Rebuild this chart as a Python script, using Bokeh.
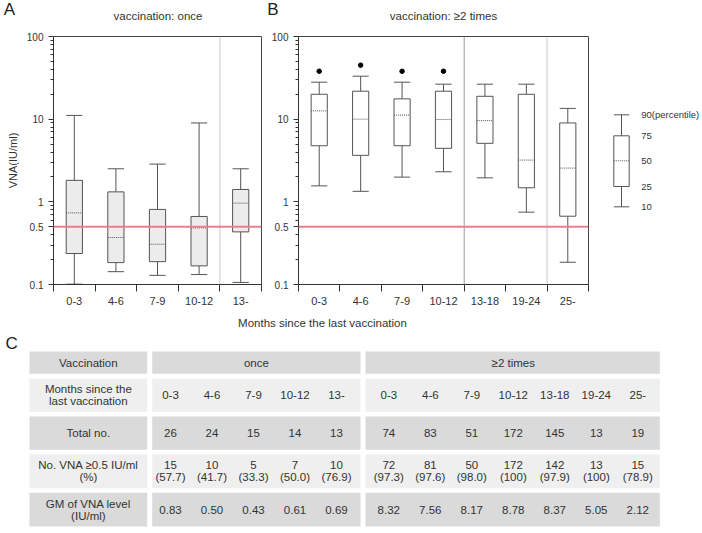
from bokeh.plotting import figure
from bokeh.models import Range1d, FixedTicker, Span
from bokeh.layouts import row, column
from bokeh.embed import file_html
from bokeh.resources import INLINE
from bokeh.core.properties import value

FONT = "Liberation Sans"
TXT = "#333333"
EDGE = "#555555"

# ---------------- data: panel A (vaccinated once) ----------------
cats_once = ["0-3", "4-6", "7-9", "10-12", "13-"]
once_p10 = [0.101, 0.143, 0.129, 0.132, 0.106]
once_p25 = [0.237, 0.184, 0.189, 0.168, 0.433]
once_p50 = [0.735, 0.370, 0.307, 0.484, 0.964]
once_p75 = [1.82, 1.32, 0.81, 0.665, 1.41]
once_p90 = [11.1, 2.51, 2.86, 9.0, 2.51]

# ---------------- data: panel B (vaccinated >= 2 times) ----------------
cats_twice = ["0-3", "4-6", "7-9", "10-12", "13-18", "19-24", "25-"]
twice_p10 = [1.56, 1.34, 1.99, 2.31, 1.95, 0.75, 0.186]
twice_p25 = [4.77, 3.65, 4.77, 4.44, 5.1, 1.48, 0.67]
twice_p50 = [12.6, 10.0, 11.2, 9.9, 9.6, 3.2, 2.56]
twice_p75 = [20.0, 21.8, 17.6, 21.8, 18.9, 20.0, 9.0]
twice_p90 = [28.0, 33.1, 28.0, 26.5, 26.5, 26.5, 13.5]
twice_outlier_cats = ["0-3", "4-6", "7-9", "10-12"]
twice_outliers = [38.0, 45.0, 38.0, 38.0]

threshold = 0.5
y_tick_vals = [0.1, 0.5, 1, 10, 100]
y_tick_labels = ["0.1", "0.5", "1", "10", "100"]

panel_letters = ["A", "B"]
panel_titles = ["vaccination: once", "vaccination: \u22652 times"]

# ---------------- data: table C ----------------
row_labels = ["Vaccination", "Months since the|last vaccination", "Total no.",
              "No. VNA \u22650.5 IU/ml|(%)", "GM of VNA level|(IU/ml)"]
group_labels = ["once", "\u22652 times"]
once_total = [26, 24, 15, 14, 13]
once_pos = [15, 10, 5, 7, 10]
once_pct = [57.7, 41.7, 33.3, 50.0, 76.9]
once_gm = [0.83, 0.50, 0.43, 0.61, 0.69]
twice_total = [74, 83, 51, 172, 145, 13, 19]
twice_pos = [72, 81, 50, 172, 142, 13, 15]
twice_pct = [97.3, 97.6, 98.0, 100, 97.9, 100, 78.9]
twice_gm = [8.32, 7.56, 8.17, 8.78, 8.37, 5.05, 2.12]

legend_labels = ["90(percentile)", "75", "50", "25", "10"]

HEAD_H = 28
TOP_H = 282
FRAME_TOP = 8
FRAME_BOT = 26


def make_panel(cats, p10, p25, p50, p75, p90, fill, width, left_border, right_border,
               seps, sep_colors, ylabel=None, out_cats=None, out_vals=None):
    n = len(cats)
    p = figure(width=width, height=TOP_H, output_backend="svg", toolbar_location=None,
               y_axis_type="log", x_range=Range1d(0, n), y_range=Range1d(0.1, 100),
               min_border_left=left_border, min_border_right=right_border,
               min_border_top=FRAME_TOP, min_border_bottom=FRAME_BOT,
               background_fill_color="white", border_fill_color="white")
    p.grid.visible = False
    p.outline_line_color = "#444444"
    p.outline_line_width = 1

    xs = [cats.index(c) + 0.5 for c in cats]
    hw = 0.195
    xl = [x - hw for x in xs]
    xr = [x + hw for x in xs]
    p.segment(x0=xs, x1=xs, y0=p75, y1=p90, line_color=EDGE, line_width=1)
    p.segment(x0=xs, x1=xs, y0=p25, y1=p10, line_color=EDGE, line_width=1)
    p.segment(x0=xl, x1=xr, y0=p90, y1=p90, line_color=EDGE, line_width=1)
    p.segment(x0=xl, x1=xr, y0=p10, y1=p10, line_color=EDGE, line_width=1)
    p.quad(left=xl, right=xr, bottom=p25, top=p75, fill_color=fill, line_color=EDGE,
           line_width=1)
    p.segment(x0=xl, x1=xr, y0=p50, y1=p50, line_color=EDGE, line_width=1, line_dash="1 1")
    if out_cats:
        ox = [cats.index(c) + 0.5 for c in out_cats]
        p.scatter(x=ox, y=out_vals, size=4.5, fill_color="black", line_color="black")

    for s, col in zip(seps, sep_colors):
        p.add_layout(Span(location=s, dimension="height", line_color=col, line_width=1))
    p.add_layout(Span(location=threshold, dimension="width", line_color="#e8808c",
                      line_width=2))

    xa = p.xaxis[0]
    xa.ticker = FixedTicker(ticks=[i + 0.5 for i in range(n)],
                            minor_ticks=[float(i) for i in range(n + 1)])
    xa.major_label_overrides = {i + 0.5: c for i, c in enumerate(cats)}
    xa.major_tick_out = 0
    xa.major_tick_in = 0
    xa.minor_tick_out = 7
    xa.minor_tick_in = 0
    xa.major_label_standoff = 5
    xa.major_label_text_font = FONT
    xa.major_label_text_font_size = "11px"
    xa.major_label_text_color = TXT
    xa.axis_line_color = "#333333"
    xa.minor_tick_line_color = "#333333"

    ya = p.yaxis[0]
    minor = [k * 10.0 ** e for e in (-1, 0, 1) for k in range(2, 10)]
    ya.ticker = FixedTicker(ticks=y_tick_vals, minor_ticks=minor)
    ya.major_label_overrides = dict(zip(y_tick_vals, y_tick_labels))
    ya.major_tick_out = 5
    ya.major_tick_in = 0
    ya.minor_tick_out = 3
    ya.minor_tick_in = 0
    ya.major_label_standoff = 5
    ya.major_label_text_font = FONT
    ya.major_label_text_font_size = "10px"
    ya.major_label_text_color = TXT
    ya.axis_line_color = "#333333"
    ya.major_tick_line_color = "#333333"
    ya.minor_tick_line_color = "#333333"
    if ylabel:
        ya.axis_label = ylabel
        ya.axis_label_text_font = FONT
        ya.axis_label_text_font_size = "11px"
        ya.axis_label_text_font_style = "normal"
        ya.axis_label_text_color = TXT
        ya.axis_label_standoff = 5
    return p


figA = make_panel(cats_once, once_p10, once_p25, once_p50, once_p75, once_p90,
                  "#ececec", 266, 53, 5, [4], ["#c8c8c8"], ylabel="VNA(IU/ml)")
figB = make_panel(cats_twice, twice_p10, twice_p25, twice_p50, twice_p75, twice_p90,
                  "white", 323, 32, 1, [4, 6], ["#9a9a9a", "#c8c8c8"],
                  out_cats=twice_outlier_cats, out_vals=twice_outliers)

# ---------------- header: panel letters and titles ----------------
figH = figure(width=702, height=HEAD_H, output_backend="svg", toolbar_location=None,
              x_range=Range1d(0, 702), y_range=Range1d(HEAD_H, 0),
              min_border=0, outline_line_color=None)
figH.axis.visible = False
figH.grid.visible = False
figH.text(x=[3.3, 266.7], y=[9, 9], text=panel_letters, text_font=value(FONT),
          text_font_size="17px", text_color="#222222", text_align="left",
          text_baseline="middle")
figH.text(x=[157.5, 443], y=[15.5, 15.5], text=panel_titles, text_font=value(FONT),
          text_font_size="11.5px", text_color=TXT, text_align="center",
          text_baseline="middle")

# ---------------- legend (schematic box) ----------------
# The row aligns this plot's frame with the panels' frames (page y 36..284),
# so the legend's y range is expressed in page pixels over that span.
figL = figure(width=113, height=TOP_H, output_backend="svg", toolbar_location=None,
              x_range=Range1d(0, 113), y_range=Range1d(284, 36),
              min_border=0, outline_line_color=None)
figL.axis.visible = False
figL.grid.visible = False
leg_y = [114.3, 135.3, 160.3, 186.0, 206.3]
lx0, lx1 = 24.3, 39.7
lxc = (lx0 + lx1) / 2
figL.segment(x0=[lxc, lxc], x1=[lxc, lxc], y0=[leg_y[0], leg_y[3]], y1=[leg_y[1], leg_y[4]],
             line_color=EDGE)
figL.segment(x0=[lx0, lx0], x1=[lx1, lx1], y0=[leg_y[0], leg_y[4]], y1=[leg_y[0], leg_y[4]],
             line_color=EDGE)
figL.quad(left=[lx0], right=[lx1], top=[leg_y[1]], bottom=[leg_y[3]], fill_color="white",
          line_color=EDGE)
figL.segment(x0=[lx0], x1=[lx1], y0=[leg_y[2]], y1=[leg_y[2]], line_color=EDGE,
             line_dash="1 1")
figL.text(x=[51.7] * len(legend_labels), y=leg_y, text=legend_labels,
          text_font=value(FONT), text_font_size="9.5px", text_color=TXT,
          text_baseline="middle", text_align="left")

# ---------------- table C ----------------
TAB_H = 533 - TOP_H - HEAD_H
figT = figure(width=702, height=TAB_H, output_backend="svg", toolbar_location=None,
              x_range=Range1d(0, 702), y_range=Range1d(TAB_H, 0),
              min_border=0, outline_line_color=None)
figT.axis.visible = False
figT.grid.visible = False

figT.text(x=[322], y=[12], text=["Months since the last vaccination"], text_font=value(FONT),
          text_font_size="11.5px", text_color=TXT, text_align="center", text_baseline="middle")
figT.text(x=[5], y=[33], text=["C"], text_font=value(FONT), text_font_size="17px",
          text_color="#222222", text_align="left", text_baseline="middle")

row_tops = [41.0, 68.3, 106.0, 144.0, 182.3]
row_bots = [63.3, 101.3, 139.3, 177.7, 216.0]
row_cols = ["#dadada", "#efefef", "#dadada", "#efefef", "#dadada"]
col_w = 41.5
once_x = [170 + col_w * i for i in range(len(cats_once))]
twice_x = [388.3 + col_w * i for i in range(len(cats_twice))]
cell_l = [29, 151.7, 365]
cell_r = [146.7, 360, 659.3]

ql, qr, qt, qb, qc = [], [], [], [], []
for t, b, c in zip(row_tops, row_bots, row_cols):
    for l, r in zip(cell_l, cell_r):
        ql.append(l); qr.append(r); qt.append(t); qb.append(b); qc.append(c)
figT.quad(left=ql, right=qr, top=qt, bottom=qb, fill_color=qc, line_color=None)

row_mid = [(t + b) / 2 for t, b in zip(row_tops, row_bots)]
tx, ty, tt = [], [], []
label_xc = (cell_l[0] + cell_r[0]) / 2
for lab, ym in zip(row_labels, row_mid):
    parts = lab.split("|")
    if len(parts) == 1:
        tx.append(label_xc); ty.append(ym); tt.append(parts[0])
    else:
        tx += [label_xc, label_xc]; ty += [ym - 6, ym + 6]; tt += parts
tx += [(cell_l[1] + cell_r[1]) / 2, (twice_x[0] + twice_x[-1]) / 2]
ty += [row_mid[0], row_mid[0]]
tt += group_labels


def pct_str(v):
    return "(100)" if v >= 100 else "(%.1f)" % v


for xs_, cats, tot, pos, pct, gm in [(once_x, cats_once, once_total, once_pos, once_pct, once_gm),
                                      (twice_x, cats_twice, twice_total, twice_pos, twice_pct, twice_gm)]:
    for i, x in enumerate(xs_):
        tx += [x, x, x, x, x]
        ty += [row_mid[1], row_mid[2], row_mid[3] - 6, row_mid[3] + 6, row_mid[4]]
        tt += [cats[i], str(tot[i]), str(pos[i]), pct_str(pct[i]), "%.2f" % gm[i]]

figT.text(x=tx, y=ty, text=tt, text_font=value(FONT), text_font_size="11.5px",
          text_color=TXT, text_align="center", text_baseline="middle")

layout = column(figH, row(figA, figB, figL), figT)
open("out.html", "w").write(file_html(layout, INLINE))
